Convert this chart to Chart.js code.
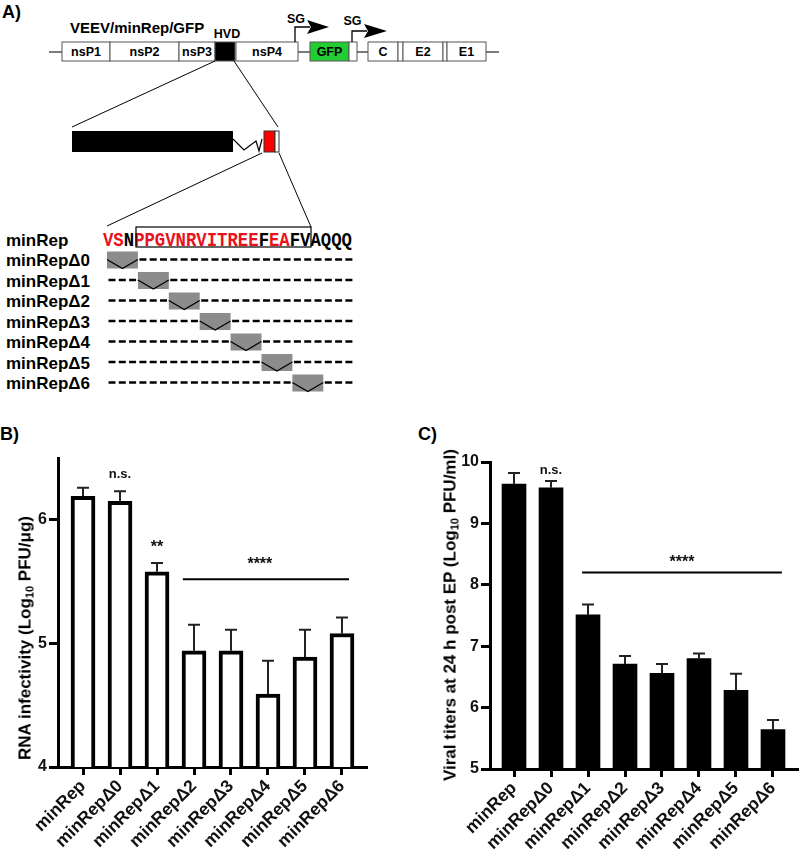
<!DOCTYPE html>
<html><head><meta charset="utf-8">
<script src="https://cdn.jsdelivr.net/npm/chart.js@4.4.0/dist/chart.umd.min.js"></script>
<style>
html,body{margin:0;padding:0;background:#fff;}
#wrap{position:relative;width:800px;height:849px;overflow:hidden;font-family:'Liberation Sans',Arial,sans-serif;font-weight:bold;color:#000;}
#schem{position:absolute;left:0;top:0;}
canvas{position:absolute;}
#cB{left:0;top:440px;}
#cC{left:400px;top:440px;}
.ytitle{position:absolute;white-space:nowrap;font-size:17px;line-height:1;transform:translate(-50%,-50%) rotate(-90deg);z-index:5;}
.ytitle sub{font-size:11px;vertical-align:-3px;line-height:0;}
</style></head>
<body>
<div id="wrap">
<svg id="schem" width="800" height="849" font-family="'Liberation Sans', Arial, sans-serif" font-weight="bold">
  <text x="2" y="18" font-size="18">A)</text>
  <text x="70" y="33" font-size="15">VEEV/minRep/GFP</text>
  <g stroke="#333" stroke-width="1.3">
    <line x1="49" y1="52" x2="62" y2="52"/>
    <line x1="298" y1="52" x2="310" y2="52"/>
    <line x1="357" y1="52" x2="368" y2="52"/>
    <line x1="486" y1="52" x2="499" y2="52"/>
  </g>
  <g stroke="#555" stroke-width="1" fill="#fff">
    <rect x="62" y="42" width="48" height="19"/>
    <rect x="110" y="42" width="69" height="19"/>
    <rect x="179" y="42" width="36" height="19"/>
    <rect x="215" y="42" width="20" height="19" fill="#000"/>
    <rect x="236" y="42" width="62" height="19"/>
    <rect x="310" y="42" width="39" height="19" fill="#22cc33"/>
    <rect x="349" y="42" width="8" height="19"/>
    <rect x="368" y="42" width="30" height="19"/>
    <rect x="398" y="42" width="5" height="19"/>
    <rect x="403" y="42" width="40" height="19"/>
    <rect x="443" y="42" width="4" height="19"/>
    <rect x="447" y="42" width="39" height="19"/>
  </g>
  <g font-size="12.5" text-anchor="middle">
    <text x="86" y="56">nsP1</text>
    <text x="144.5" y="56">nsP2</text>
    <text x="197" y="56">nsP3</text>
    <text x="267" y="56">nsP4</text>
    <text x="329.5" y="56">GFP</text>
    <text x="383" y="56">C</text>
    <text x="423" y="56">E2</text>
    <text x="466.5" y="56">E1</text>
    <text x="227" y="38">HVD</text>
    <text x="296" y="23">SG</text>
    <text x="352.5" y="25">SG</text>
  </g>
  <polyline points="295,42 295,27 310,27" fill="none" stroke="#000" stroke-width="1.3"/>
  <polygon points="307,20 329,27 307,34 311,27" fill="#000"/>
  <polyline points="352,42 352,31 367,31" fill="none" stroke="#000" stroke-width="1.3"/>
  <polygon points="364,24 387,31 364,38 368,31" fill="#000"/>
  <g stroke="#000" stroke-width="1">
    <line x1="215" y1="61" x2="72" y2="127"/>
    <line x1="234" y1="61" x2="278" y2="127"/>
    <line x1="262" y1="153" x2="107" y2="226"/>
    <line x1="279" y1="153" x2="311" y2="227"/>
  </g>
  <rect x="72" y="131" width="161" height="21" fill="#000"/>
  <polyline points="233,139 244,150 256,141 259,151 262,139" fill="none" stroke="#000" stroke-width="1.2"/>
  <rect x="264" y="131" width="11" height="21" fill="#f00" stroke="#333" stroke-width="1"/>
  <rect x="275" y="131" width="4" height="21" fill="#fff" stroke="#333" stroke-width="1"/>
  <text x="6" y="245.5" font-size="17">minRep</text>
  <text x="103" y="246" font-family="'Liberation Mono','Courier New',monospace" font-size="19.5" textLength="249" lengthAdjust="spacingAndGlyphs"><tspan fill="#e8131b">VS</tspan><tspan fill="#000">N</tspan><tspan fill="#e8131b">PPGVNRVITREE</tspan><tspan fill="#000">F</tspan><tspan fill="#e8131b">EA</tspan><tspan fill="#000">FVAQQQ</tspan></text>
  <rect x="136" y="227" width="175" height="20" fill="none" stroke="#000" stroke-width="1.2"/>
  <text x="0" y="440" font-size="18">B)</text>
  <text x="418" y="440" font-size="18">C)</text>
</svg>
<canvas id="cB" width="390" height="409"></canvas>
<canvas id="cC" width="400" height="409"></canvas>
<div class="ytitle" style="left:25px;top:638px;">RNA infectivity (Log<sub>10</sub> PFU/μg)</div>
<div class="ytitle" style="left:450px;top:615px;">Viral titers at 24 h post EP (Log<sub>10</sub> PFU/ml)</div>
</div>
<script>
// ---- data ----
const categories = ['minRep','minRepΔ0','minRepΔ1','minRepΔ2','minRepΔ3','minRepΔ4','minRepΔ5','minRepΔ6'];
const rnaInfectivity    = [6.19, 6.15, 5.58, 4.94, 4.94, 4.59, 4.89, 5.08];
const rnaInfectivityErr = [0.07, 0.08, 0.07, 0.21, 0.17, 0.27, 0.22, 0.13];
const viralTiters       = [9.64, 9.58, 7.51, 6.71, 6.56, 6.80, 6.28, 5.64];
const viralTitersErr    = [0.18, 0.11, 0.17, 0.13, 0.15, 0.08, 0.27, 0.16];
const yTicksB = [4, 5, 6];
const yTicksC = [5, 6, 7, 8, 9, 10];
const notesB = [{at: 1, level: 6.34, text: 'n.s.'}, {at: 2, level: 5.74, text: '**'}];
const bracketB = {from: 2.70, to: 7.19, level: 5.52, textAt: 4.78, textLevel: 5.60, text: '****'};
const notesC = [{at: 1, level: 9.81, text: 'n.s.'}];
const bracketC = {from: 1.84, to: 7.24, level: 8.20, textAt: 4.54, textLevel: 8.29, text: '****'};
const mutants = ['minRepΔ0','minRepΔ1','minRepΔ2','minRepΔ3','minRepΔ4','minRepΔ5','minRepΔ6'];

// ---- schematic rows ----
const svgNS = 'http://www.w3.org/2000/svg';
const schem = document.getElementById('schem');
function el(tag, attrs, text) {
  const e = document.createElementNS(svgNS, tag);
  for (const k in attrs) e.setAttribute(k, attrs[k]);
  if (text != null) e.textContent = text;
  schem.appendChild(e); return e;
}
mutants.forEach((name, k) => {
  const base = 266 + 20.5 * k, dy = base - 6.5;
  el('text', {x: 6, y: base, 'font-size': 17}, name);
  for (let j = 0; j < 24; j++) {
    if (j >= 3 * k && j < 3 * k + 3) continue;
    const x0 = 107 + 10.3 * j;
    el('line', {x1: x0 + 1.5, y1: dy, x2: x0 + 8.5, y2: dy, stroke: '#000', 'stroke-width': 2.5});
  }
  const bx = 107 + 30.9 * k;
  el('rect', {x: bx, y: dy - 8, width: 30.9, height: 17, fill: '#8c8c8c'});
  el('polyline', {points: `${bx},${dy} ${bx + 15.45},${dy + 9} ${bx + 30.9},${dy}`, fill: 'none', stroke: '#000', 'stroke-width': 1.3});
});

// ---- charts ----
const FONT = "'Liberation Sans', Arial, sans-serif";
function overlay(values, errs, notes, bracket) {
  return {
    id: 'overlay',
    afterDatasetsDraw(chart) {
      const ctx = chart.ctx, x = chart.scales.x, y = chart.scales.y;
      ctx.save();
      ctx.strokeStyle = '#222'; ctx.lineWidth = 2;
      values.forEach((v, i) => {
        const px = x.getPixelForValue(i), p0 = y.getPixelForValue(v), p1 = y.getPixelForValue(v + errs[i]);
        ctx.beginPath(); ctx.moveTo(px, p0); ctx.lineTo(px, p1);
        ctx.moveTo(px - 6, p1); ctx.lineTo(px + 6, p1); ctx.stroke();
      });
      ctx.fillStyle = '#111'; ctx.textAlign = 'center'; ctx.textBaseline = 'alphabetic';
      const fontFor = t => `bold ${/\*/.test(t) ? 16 : 13}px ${FONT}`;
      notes.forEach(n => {
        ctx.font = fontFor(n.text);
        ctx.fillText(n.text, x.getPixelForValue(n.at), y.getPixelForValue(n.level));
      });
      ctx.strokeStyle = '#000'; ctx.lineWidth = 2;
      const by = y.getPixelForValue(bracket.level);
      ctx.beginPath(); ctx.moveTo(x.getPixelForValue(bracket.from), by); ctx.lineTo(x.getPixelForValue(bracket.to), by); ctx.stroke();
      ctx.font = fontFor(bracket.text);
      ctx.fillText(bracket.text, x.getPixelForValue(bracket.textAt), y.getPixelForValue(bracket.textLevel));
      ctx.restore();
    }
  };
}
function makeChart(id, values, errs, yTicks, yMin, yMax, xMin, xMax, yWidth, xHeight, pad, barStyle, notes, bracket) {
  return new Chart(document.getElementById(id), {
    type: 'bar',
    data: {
      datasets: [Object.assign({
        data: values.map((v, i) => ({x: i, y: v})),
        barThickness: 24,
        borderSkipped: 'start'
      }, barStyle)]
    },
    options: {
      responsive: false, maintainAspectRatio: false, animation: false, devicePixelRatio: 1,
      layout: {padding: pad},
      plugins: {legend: {display: false}, tooltip: {enabled: false}},
      scales: {
        x: {
          type: 'linear', min: xMin, max: xMax, offset: false,
          afterBuildTicks: s => { s.ticks = categories.map((_, i) => ({value: i})); },
          afterFit: s => { s.height = xHeight; },
          ticks: {
            callback: v => categories[v], autoSkip: false, minRotation: 45, maxRotation: 45,
            font: {family: FONT, size: 17.5, weight: 'bold'}, color: '#111', padding: 1
          },
          grid: {display: true, offset: false, drawOnChartArea: false, drawTicks: true, tickLength: 8, tickWidth: 3, tickColor: '#000'},
          border: {display: true, width: 3, color: '#000'}
        },
        y: {
          min: yMin, max: yMax, beginAtZero: false,
          afterBuildTicks: s => { s.ticks = yTicks.map(v => ({value: v})); },
          afterFit: s => { s.width = yWidth; },
          ticks: {font: {family: FONT, size: 16, weight: 'bold'}, color: '#111', padding: 2},
          grid: {display: true, drawOnChartArea: false, drawTicks: true, tickLength: 9, tickWidth: 3, tickColor: '#000'},
          border: {display: true, width: 3, color: '#000'}
        }
      }
    },
    plugins: [overlay(values, errs, notes, bracket)]
  });
}
makeChart('cB', rnaInfectivity, rnaInfectivityErr, yTicksB, 4, 6.5, -0.676, 7.676, 58, 82,
  {top: 18, right: 23, left: 0, bottom: 0},
  {backgroundColor: '#fff', borderColor: '#000', borderWidth: 4}, notesB, bracketB);
makeChart('cC', viralTiters, viralTitersErr, yTicksC, 5, 10, -0.649, 7.676, 90, 80,
  {top: 22, right: 2, left: 0, bottom: 0},
  {backgroundColor: '#000', borderColor: '#000', borderWidth: 0}, notesC, bracketC);
</script>
</body></html>
